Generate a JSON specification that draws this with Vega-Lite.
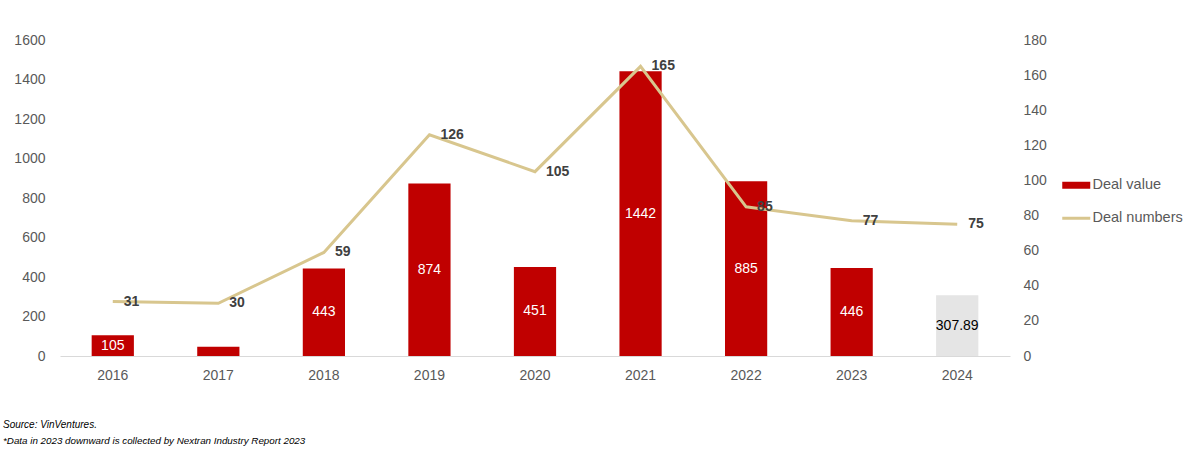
{
  "$schema": "https://vega.github.io/schema/vega-lite/v6.json",
  "width": 950,
  "height": 316,
  "autosize": "none",
  "padding": {"left": 60, "top": 40, "right": 190, "bottom": 106},
  "background": "white",
  "config": {"font": "Liberation Sans", "view": {"stroke": null}},
  "title": {
    "text": "Source: VinVentures.",
    "subtitle": "*Data in 2023 downward is collected by Nextran Industry Report 2023",
    "orient": "bottom",
    "anchor": "start",
    "frame": "group",
    "dx": -57,
    "offset": 38,
    "fontSize": 10,
    "fontStyle": "italic",
    "fontWeight": "normal",
    "color": "#000000",
    "subtitleFontSize": 9.8,
    "subtitleFontStyle": "italic",
    "subtitleColor": "#000000",
    "subtitlePadding": 6
  },
  "data": {
    "values": [
      {"year": "2016", "value": 105, "deals": 31},
      {"year": "2017", "value": 47, "deals": 30},
      {"year": "2018", "value": 443, "deals": 59},
      {"year": "2019", "value": 874, "deals": 126},
      {"year": "2020", "value": 451, "deals": 105},
      {"year": "2021", "value": 1442, "deals": 165},
      {"year": "2022", "value": 885, "deals": 85},
      {"year": "2023", "value": 446, "deals": 77},
      {"year": "2024", "value": 307.89, "deals": 75}
    ]
  },
  "encoding": {
    "x": {
      "field": "year",
      "type": "ordinal",
      "scale": {"paddingInner": 0.6, "paddingOuter": 0.3},
      "axis": {
        "title": null,
        "labelAngle": 0,
        "ticks": false,
        "domainColor": "#D9D9D9",
        "labelPadding": 12,
        "labelFontSize": 14,
        "labelColor": "#595959"
      }
    }
  },
  "layer": [
    {
      "mark": {"type": "bar"},
      "encoding": {
        "y": {
          "field": "value",
          "type": "quantitative",
          "scale": {"domain": [0, 1600]},
          "axis": {
            "orient": "left",
            "title": null,
            "format": "d",
            "values": [0, 200, 400, 600, 800, 1000, 1200, 1400, 1600],
            "grid": false,
            "domain": false,
            "ticks": false,
            "labelPadding": 15,
            "labelFontSize": 14,
            "labelColor": "#595959"
          }
        },
        "color": {
          "condition": {"test": "datum.year === '2024'", "value": "#E5E5E5"},
          "datum": "Deal value",
          "scale": {"domain": ["Deal value", "Deal numbers"], "range": ["#C00000", "#D8C68E"]},
          "legend": {
            "title": null,
            "orient": "none",
            "legendX": 1009,
            "legendY": 138,
            "symbolType": "stroke",
            "symbolSize": 784,
            "labelFontSize": 14.5,
            "labelColor": "#595959",
            "labelOffset": 9,
            "rowPadding": 10,
            "encode": {
              "symbols": {
                "update": {
                  "strokeWidth": {"signal": "datum.value === 'Deal value' ? 7 : 3"},
                  "stroke": {"scale": "color", "field": "value"}
                }
              }
            }
          }
        }
      }
    },
    {
      "mark": {"type": "text", "fontSize": 14, "baseline": "middle"},
      "encoding": {
        "y": {"field": "value", "type": "quantitative", "scale": {"domain": [0, 3200]}, "axis": null},
        "text": {"field": "value", "type": "nominal"},
        "color": {
          "condition": {"test": "datum.year === '2024'", "value": "#000000"},
          "value": "#FFFFFF"
        },
        "opacity": {
          "condition": {"test": "datum.year === '2017'", "value": 0},
          "value": 1
        }
      }
    },
    {
      "mark": {"type": "line", "strokeWidth": 3},
      "encoding": {
        "y": {
          "field": "deals",
          "type": "quantitative",
          "scale": {"domain": [0, 180]},
          "axis": {
            "orient": "right",
            "title": null,
            "values": [0, 20, 40, 60, 80, 100, 120, 140, 160, 180],
            "grid": false,
            "domain": false,
            "ticks": false,
            "labelPadding": 13,
            "labelFontSize": 14,
            "labelColor": "#595959"
          }
        },
        "color": {"datum": "Deal numbers"}
      }
    },
    {
      "mark": {"type": "text", "fontSize": 14, "fontWeight": "bold", "align": "left", "baseline": "middle", "dx": 11, "color": "#404040"},
      "encoding": {
        "y": {"field": "deals", "type": "quantitative", "scale": {"domain": [0, 180]}, "axis": null},
        "text": {"field": "deals", "type": "nominal"}
      }
    }
  ],
  "resolve": {"scale": {"y": "independent"}}
}
